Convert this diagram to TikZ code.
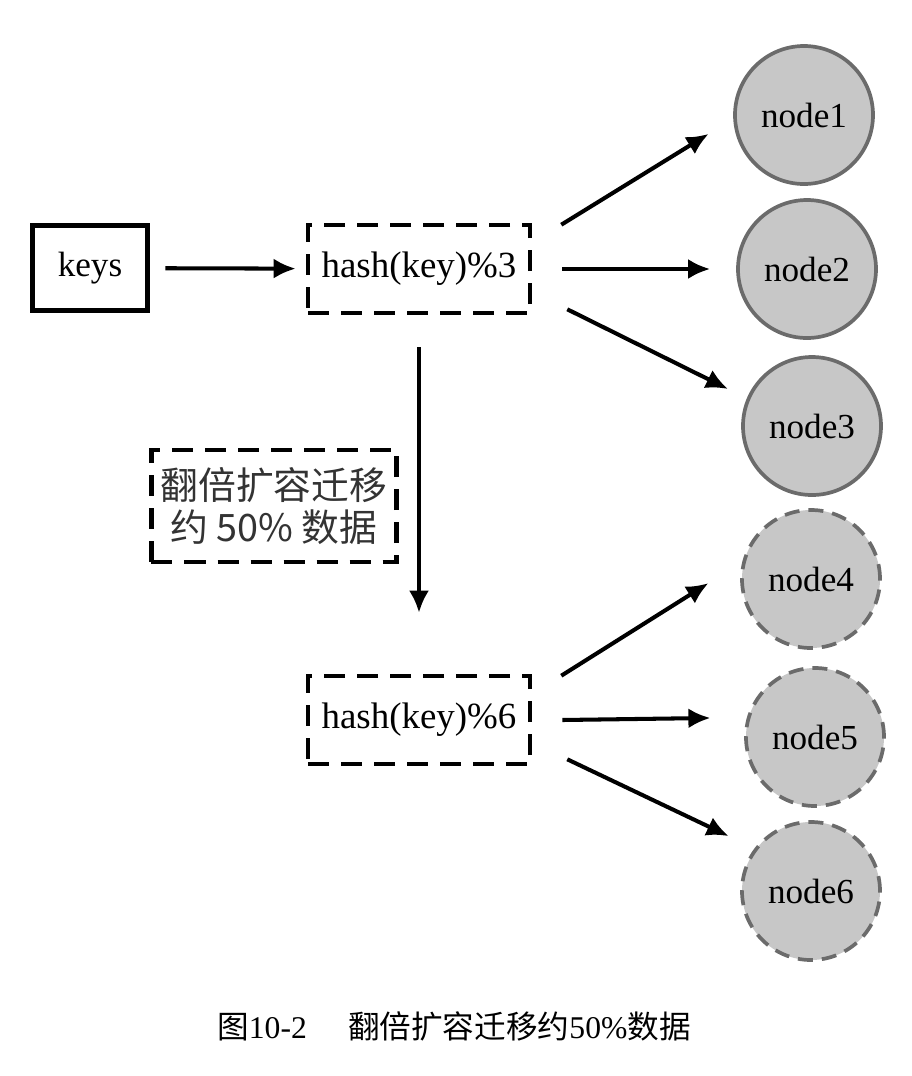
\documentclass[tikz,border=0pt]{standalone}
\usepackage{fontspec}
\setmainfont{Liberation Serif}
\newfontfamily\cjk{Noto Sans CJK SC}
\usetikzlibrary{arrows.meta}

\begin{document}
\begin{tikzpicture}[x=0.2mm, y=-0.2mm,
    box/.style = {draw, line width=2.6pt, minimum width=23mm, minimum height=17mm, inner sep=0pt, font=\fontsize{20}{24}\selectfont},
    dbox/.style = {draw, line width=2.6pt, dash pattern=on 4.2mm off 2.4mm, inner sep=0pt, minimum width=44.4mm, minimum height=17.6mm, font=\fontsize{21}{24}\selectfont},
    main/.style = {draw=black!58, fill=black!22, line width=2.1pt, circle, minimum size=27.6mm, inner sep=0pt, font=\fontsize{20}{24}\selectfont},
    dmain/.style = {main, dash pattern=on 3mm off 1.8mm},
    arr/.style = {-{Latex[length=4.4mm, width=4mm]}, line width=2.3pt}]

    \useasboundingbox (0,0) rectangle (912,1076);

    \node[box] (keys) at (90, 268) {keys};
    \node[dbox] (h3) at (419, 269) {hash(key)\%3};
    \node[dbox] (h6) at (419, 720) {hash(key)\%6};
    \node[dbox, minimum width=49mm, minimum height=22.4mm, align=center, text=black!80, font={\cjk\fontsize{21.5}{24}\selectfont}] (move) at (274, 506) {翻倍扩容迁移\\约 50\% 数据};

    \node[main] (n1) at (804, 115) {node1};
    \node[main] (n2) at (807, 269) {node2};
    \node[main] (n3) at (812, 426) {node3};
    \node[dmain] (n4) at (811, 579) {node4};
    \node[dmain] (n5) at (815, 737) {node5};
    \node[dmain] (n6) at (811, 891) {node6};

    \draw[arr, shorten <=3.1mm, shorten >=2mm] (keys) -- (h3);
    \draw[arr, shorten >=5.8mm] ([xshift=5.8mm, yshift=-0.4mm]h3.north east) -- (n1.183);
    \draw[arr, shorten >=5.2mm] ([xshift=6mm]h3.east) -- (n2.west);
    \draw[arr, shorten >=4.2mm] ([xshift=7mm, yshift=1.2mm]h3.south east) -- (n3.157);
    \draw[arr, shorten <=6.4mm, shorten >=12.2mm] (h3) -- (h6);
    \draw[arr, shorten >=8mm] ([xshift=5.8mm, yshift=-0.4mm]h6.north east) -- (n4.166);
    \draw[arr, shorten >=7.3mm] ([xshift=6mm]h6.east) -- (n5.164);
    \draw[arr, shorten >=5.7mm] ([xshift=7mm, yshift=1.4mm]h6.south east) -- (n6.143);

    \node[font=\fontsize{18}{22}\selectfont] (cap) at (454, 1026) {{\cjk 图}10-2\hspace{1.3em}{\cjk 翻倍扩容迁移约}50\%{\cjk 数据}};

\end{tikzpicture}
\end{document}
